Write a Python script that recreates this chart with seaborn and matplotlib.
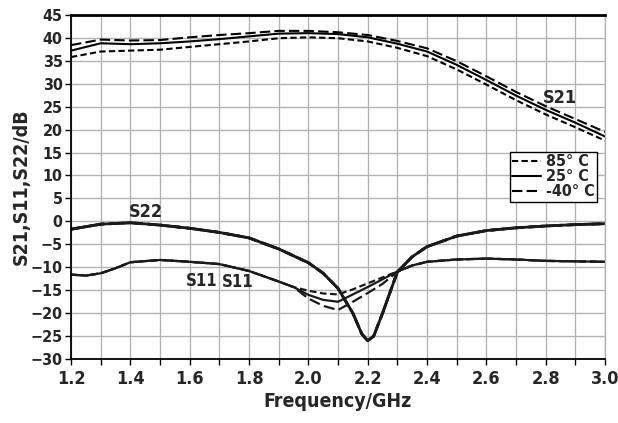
import numpy as np
import pandas as pd
import matplotlib
matplotlib.use('Agg')
import matplotlib.pyplot as plt
from matplotlib.ticker import MultipleLocator, FormatStrFormatter
import seaborn as sns

# S21 curves, one per temperature
freq_s21 = [1.2, 1.3, 1.4, 1.5, 1.6, 1.7, 1.8, 1.9, 2.0, 2.1,
            2.2, 2.3, 2.4, 2.5, 2.6, 2.7, 2.8, 2.9, 3.0]
s21_85 = [35.8, 37.0, 37.2, 37.4, 38.0, 38.6, 39.2, 39.9, 40.1, 39.9,
          39.2, 37.8, 36.0, 33.1, 29.8, 26.4, 23.3, 20.5, 17.6]
s21_25 = [37.2, 38.8, 38.6, 38.8, 39.2, 39.7, 40.3, 40.9, 41.0, 40.8,
          40.1, 38.7, 37.0, 34.1, 30.8, 27.4, 24.3, 21.5, 18.5]
s21_m40 = [38.4, 39.6, 39.4, 39.5, 40.1, 40.6, 41.0, 41.5, 41.5, 41.2,
           40.6, 39.3, 37.7, 34.9, 31.6, 28.2, 25.1, 22.3, 19.5]

# S22 (the three temperatures overlap)
freq_s22 = [1.2, 1.3, 1.4, 1.5, 1.6, 1.7, 1.8, 1.9, 2.0, 2.05, 2.1, 2.15, 2.18,
            2.2, 2.22, 2.25, 2.3, 2.35, 2.4, 2.5, 2.6, 2.7, 2.8, 2.9, 3.0]
s22 = [-1.7, -0.6, -0.3, -0.8, -1.5, -2.4, -3.6, -6.0, -9.0, -11.3, -14.6, -20.0, -24.5,
       -26.0, -25.0, -20.0, -11.0, -7.7, -5.5, -3.2, -2.0, -1.4, -1.0, -0.7, -0.5]

# S11, split only around the dip
freq_s11 = [1.2, 1.25, 1.3, 1.35, 1.4, 1.5, 1.6, 1.7, 1.8, 1.9, 1.95, 2.0, 2.05,
            2.1, 2.15, 2.2, 2.25, 2.3, 2.35, 2.4, 2.5, 2.6, 2.7, 2.8, 2.9, 3.0]
s11_85 = [-11.6, -11.8, -11.3, -10.2, -8.9, -8.4, -8.8, -9.3, -10.8, -13.1, -14.3, -15.1, -15.7,
          -15.9, -14.8, -13.5, -12.2, -10.9, -9.6, -8.8, -8.3, -8.1, -8.3, -8.6, -8.7, -8.8]
s11_25 = [-11.6, -11.8, -11.3, -10.2, -8.9, -8.4, -8.8, -9.3, -10.8, -13.1, -14.3, -16.0, -17.1,
          -17.5, -15.9, -14.3, -12.6, -10.9, -9.6, -8.8, -8.3, -8.1, -8.3, -8.6, -8.7, -8.8]
s11_m40 = [-11.6, -11.8, -11.3, -10.2, -8.9, -8.4, -8.8, -9.3, -10.8, -13.1, -14.3, -16.8, -18.4,
           -19.3, -17.5, -15.6, -13.6, -11.0, -9.6, -8.8, -8.3, -8.1, -8.3, -8.6, -8.7, -8.8]

temps = ['85° C', '25° C', '-40° C']

sns.set_style('white')
plt.rcParams['font.family'] = ['DejaVu Sans']
plt.rcParams['font.stretch'] = 'condensed'
plt.rcParams['font.weight'] = 'bold'

fig = plt.figure(figsize=(6.18, 4.23), dpi=100)
ax = fig.add_axes([0.115, 0.151, 0.864, 0.814])

short_dash = (0, (3.0, 1.6))
long_dash = (0, (5.0, 2.0))
styles = [short_dash, '-', long_dash]
lw = 1.5

for vals, ls, t in zip([s21_85, s21_25, s21_m40], styles, temps):
    sns.lineplot(x=freq_s21, y=vals, ax=ax, color='black', linestyle=ls, linewidth=lw, label=t)

for ls in styles:
    sns.lineplot(x=freq_s22, y=s22, ax=ax, color='#1a1a1a', linestyle=ls, linewidth=2.0)

for vals, ls in zip([s11_85, s11_25, s11_m40], styles):
    sns.lineplot(x=freq_s11, y=vals, ax=ax, color='#1a1a1a', linestyle=ls, linewidth=1.6)

ax.set_xlim(1.2, 3.0)
ax.set_ylim(-30, 45)
ax.xaxis.set_major_locator(MultipleLocator(0.2))
ax.xaxis.set_minor_locator(MultipleLocator(0.1))
ax.xaxis.set_major_formatter(FormatStrFormatter('%.1f'))
ax.yaxis.set_major_locator(MultipleLocator(5))
ax.grid(True, which='both', color='#b4b4b4', linewidth=1.0)
ax.set_axisbelow(True)

ax.tick_params(axis='x', which='both', direction='out', length=4, width=1, color='black',
               labelsize=13, bottom=True)
ax.tick_params(axis='y', which='major', direction='out', length=4, width=1, color='black',
               labelsize=11.5, left=True, pad=2)
for lab in ax.get_xticklabels() + ax.get_yticklabels():
    lab.set_fontweight('bold')

for side in ['left', 'bottom']:
    ax.spines[side].set_color('black')
    ax.spines[side].set_linewidth(1.3)
ax.spines['top'].set_color('black')
ax.spines['top'].set_linewidth(2.0)
ax.spines['right'].set_color('#b4b4b4')
ax.spines['right'].set_linewidth(1.0)

ax.set_xlabel('Frequency/GHz', fontsize=14, fontweight='bold', labelpad=3)
ax.set_ylabel('S21,S11,S22/dB', fontsize=14, fontweight='bold', labelpad=0)

ax.text(2.848, 26.8, 'S21', fontsize=13, fontweight='bold', ha='center', va='center')
ax.text(1.453, 2.1, 'S22', fontsize=13, fontweight='bold', ha='center', va='center')
ax.text(1.640, -12.9, 'S11', fontsize=12, fontweight='bold', ha='center', va='center')
ax.text(1.762, -13.3, 'S11', fontsize=12, fontweight='bold', ha='center', va='center')

leg = ax.legend(loc='upper left', bbox_to_anchor=(0.822, 0.602), frameon=True, fancybox=False,
                framealpha=1, edgecolor='black', fontsize=11.5, handlelength=1.8,
                handletextpad=0.3, borderpad=0.15, labelspacing=0.0, borderaxespad=0)
leg.get_frame().set_linewidth(1.0)
for t in leg.get_texts():
    t.set_fontweight('bold')

fig.savefig('out.png', dpi=100)
